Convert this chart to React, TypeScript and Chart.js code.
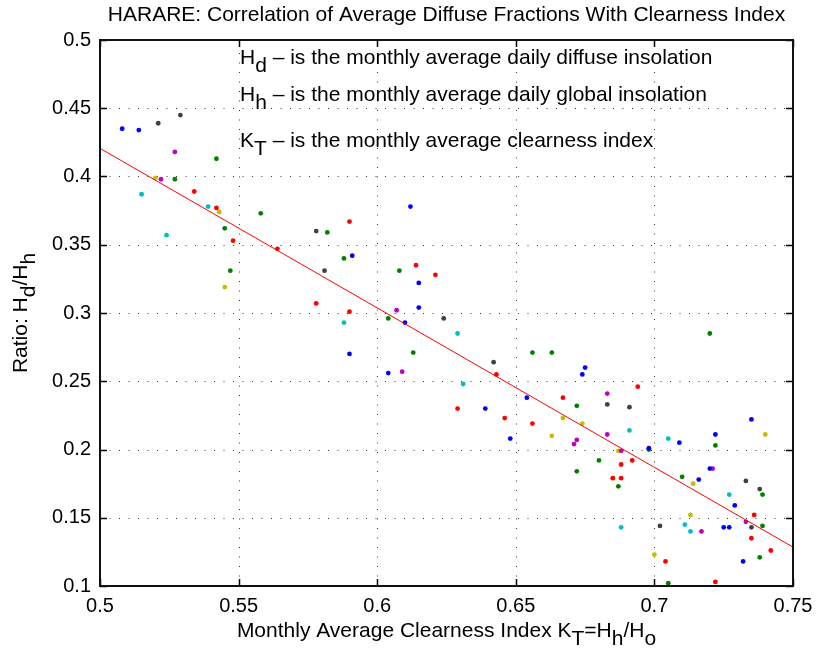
import React, { useEffect, useRef } from 'react';
import { Chart, registerables } from 'chart.js';

Chart.register(...registerables);

const FONT = "'Liberation Sans', Arial, Helvetica, sans-serif";

// Axis ticks
const xTicks = [0.5, 0.55, 0.6, 0.65, 0.7, 0.75];
const xTickLabels = ['0.5', '0.55', '0.6', '0.65', '0.7', '0.75'];
const yTicks = [0.1, 0.15, 0.2, 0.25, 0.3, 0.35, 0.4, 0.45, 0.5];
const yTickLabels = ['0.1', '0.15', '0.2', '0.25', '0.3', '0.35', '0.4', '0.45', '0.5'];

// Scatter series: [clearness index KT, ratio Hd/Hh]
const bluePoints: [number, number][] = [
  [0.508, 0.435], [0.514, 0.434], [0.612, 0.378], [0.591, 0.342], [0.615, 0.322], [0.615, 0.304],
  [0.610, 0.293], [0.590, 0.270], [0.604, 0.256], [0.675, 0.260], [0.674, 0.255], [0.654, 0.238],
  [0.639, 0.230], [0.648, 0.208], [0.698, 0.201], [0.735, 0.222], [0.709, 0.205], [0.722, 0.211],
  [0.720, 0.186], [0.716, 0.178], [0.729, 0.159], [0.725, 0.143], [0.727, 0.143], [0.732, 0.118],
];
const greenPoints: [number, number][] = [
  [0.542, 0.413], [0.527, 0.398], [0.545, 0.362], [0.558, 0.373], [0.547, 0.331], [0.582, 0.359],
  [0.588, 0.340], [0.608, 0.331], [0.604, 0.296], [0.613, 0.271], [0.656, 0.271], [0.663, 0.271],
  [0.672, 0.232], [0.680, 0.192], [0.672, 0.184], [0.698, 0.200], [0.722, 0.203], [0.687, 0.173],
  [0.710, 0.180], [0.739, 0.167], [0.739, 0.144], [0.738, 0.121], [0.705, 0.102], [0.720, 0.285],
];
const redPoints: [number, number][] = [
  [0.534, 0.389], [0.542, 0.377], [0.548, 0.353], [0.564, 0.347], [0.590, 0.367], [0.614, 0.335],
  [0.621, 0.328], [0.578, 0.307], [0.590, 0.301], [0.643, 0.255], [0.667, 0.238], [0.629, 0.230],
  [0.646, 0.223], [0.656, 0.219], [0.694, 0.246], [0.692, 0.192], [0.688, 0.189], [0.685, 0.179],
  [0.688, 0.179], [0.736, 0.152], [0.735, 0.135], [0.742, 0.126], [0.704, 0.118], [0.722, 0.103],
];
const cyanPoints: [number, number][] = [
  [0.515, 0.387], [0.539, 0.378], [0.524, 0.357], [0.588, 0.293], [0.629, 0.285], [0.631, 0.248],
  [0.691, 0.214], [0.705, 0.208], [0.727, 0.167], [0.688, 0.143], [0.711, 0.145], [0.713, 0.140],
];
const magentaPoints: [number, number][] = [
  [0.527, 0.418], [0.522, 0.398], [0.607, 0.302], [0.609, 0.257], [0.683, 0.241], [0.683, 0.211],
  [0.672, 0.207], [0.671, 0.204], [0.688, 0.199], [0.721, 0.186], [0.733, 0.147], [0.717, 0.140],
];
const yellowPoints: [number, number][] = [
  [0.520, 0.399], [0.543, 0.374], [0.545, 0.319], [0.667, 0.223], [0.674, 0.219], [0.663, 0.210],
  [0.687, 0.199], [0.685, 0.179], [0.714, 0.175], [0.740, 0.211], [0.713, 0.152], [0.700, 0.123],
];
const grayPoints: [number, number][] = [
  [0.521, 0.439], [0.529, 0.445], [0.578, 0.360], [0.581, 0.331], [0.624, 0.296], [0.642, 0.264],
  [0.683, 0.233], [0.691, 0.231], [0.733, 0.177], [0.738, 0.171], [0.735, 0.143], [0.702, 0.144],
];

// Regression line end points
const fitKT = [0.5, 0.75];
const fitRatio = [0.4206, 0.1285];

// Texts
type Part = { t: string; sub?: boolean };
const titleText = 'HARARE: Correlation of Average Diffuse Fractions With Clearness Index';
const xLabelParts: Part[] = [
  { t: 'Monthly Average Clearness Index K' }, { t: 'T', sub: true }, { t: '=H' }, { t: 'h', sub: true },
  { t: '/H' }, { t: 'o', sub: true },
];
const yLabelParts: Part[] = [
  { t: 'Ratio: H' }, { t: 'd', sub: true }, { t: '/H' }, { t: 'h', sub: true },
];
const notes: Part[][] = [
  [{ t: 'H' }, { t: 'd', sub: true }, { t: ' \u2013 is the monthly average daily diffuse insolation' }],
  [{ t: 'H' }, { t: 'h', sub: true }, { t: ' \u2013 is the monthly average daily global insolation' }],
  [{ t: 'K' }, { t: 'T', sub: true }, { t: ' \u2013 is the monthly average clearness index' }],
];
const noteKT = 0.5505;
const noteRatio = [0.4821, 0.4551, 0.4214];

const series = [
  { pts: bluePoints, color: '#0000FF' },
  { pts: greenPoints, color: '#008000' },
  { pts: redPoints, color: '#FF0000' },
  { pts: cyanPoints, color: '#00BFBF' },
  { pts: magentaPoints, color: '#BF00BF' },
  { pts: yellowPoints, color: '#BFBF00' },
  { pts: grayPoints, color: '#404040' },
];

function drawRich(ctx: CanvasRenderingContext2D, parts: Part[], x: number, y: number, center: boolean, subDy: number) {
  let total = 0;
  for (const p of parts) total += ctx.measureText(p.t).width;
  let cx = center ? x - total / 2 : x;
  for (const p of parts) {
    ctx.fillText(p.t, cx, y + (p.sub ? subDy : 0));
    cx += ctx.measureText(p.t).width;
  }
}

const matlabPlugin = {
  id: 'matlabDecor',
  beforeDatasetsDraw(chart: any) {
    const { ctx, chartArea: a, scales } = chart;
    const xs = scales.x, ys = scales.y;
    ctx.save();
    ctx.strokeStyle = '#3a3a3a';
    ctx.lineWidth = 1;
    ctx.setLineDash([1, 8.5]);
    for (const v of xTicks.slice(1, -1)) {
      const px = Math.round(xs.getPixelForValue(v)) + 0.5;
      ctx.beginPath();
      ctx.moveTo(px, a.bottom);
      ctx.lineTo(px, a.top);
      ctx.stroke();
    }
    for (const v of yTicks.slice(1, -1)) {
      const py = Math.round(ys.getPixelForValue(v)) + 0.5;
      ctx.beginPath();
      ctx.moveTo(a.left, py);
      ctx.lineTo(a.right, py);
      ctx.stroke();
    }
    ctx.restore();
  },
  afterDatasetsDraw(chart: any) {
    const { ctx, chartArea: a, scales } = chart;
    const xs = scales.x, ys = scales.y;
    ctx.save();
    ctx.setLineDash([]);
    ctx.strokeStyle = '#000';
    ctx.lineWidth = 1.5;
    const tl = 7;
    for (const v of xTicks) {
      const px = Math.round(xs.getPixelForValue(v)) + 0.5;
      ctx.beginPath();
      ctx.moveTo(px, a.bottom); ctx.lineTo(px, a.bottom - tl);
      ctx.moveTo(px, a.top); ctx.lineTo(px, a.top + tl);
      ctx.stroke();
    }
    for (const v of yTicks) {
      const py = Math.round(ys.getPixelForValue(v)) + 0.5;
      ctx.beginPath();
      ctx.moveTo(a.left, py); ctx.lineTo(a.left + tl, py);
      ctx.moveTo(a.right, py); ctx.lineTo(a.right - tl, py);
      ctx.stroke();
    }
    ctx.lineWidth = 2;
    ctx.strokeStyle = '#111';
    ctx.strokeRect(a.left, a.top, a.right - a.left, a.bottom - a.top);
    ctx.restore();
  },
  afterDraw(chart: any) {
    const { ctx, chartArea: a, scales } = chart;
    const xs = scales.x, ys = scales.y;
    ctx.save();
    ctx.fillStyle = '#000';
    ctx.textAlign = 'left';
    ctx.textBaseline = 'alphabetic';
    const cx = (a.left + a.right) / 2;
    const cy = (a.top + a.bottom) / 2;
    // title
    ctx.font = `21px ${FONT}`;
    drawRich(ctx, [{ t: titleText }], cx, 21, true, 0);
    // annotations
    ctx.font = `21px ${FONT}`;
    notes.forEach((parts, i) => {
      drawRich(ctx, parts, xs.getPixelForValue(noteKT), ys.getPixelForValue(noteRatio[i]), false, 8);
    });
    // x label
    ctx.font = `21px ${FONT}`;
    drawRich(ctx, xLabelParts, cx, 637, true, 8);
    // y label
    ctx.save();
    ctx.translate(26.5, cy);
    ctx.rotate(-Math.PI / 2);
    drawRich(ctx, yLabelParts, 0, 0, true, 8);
    ctx.restore();
    ctx.restore();
  },
};

export default function App() {
  const ref = useRef<HTMLCanvasElement | null>(null);
  useEffect(() => {
    if (!ref.current) return;
    const datasets: any[] = [
      {
        type: 'line',
        data: fitKT.map((x, i) => ({ x, y: fitRatio[i] })),
        borderColor: '#FF0000',
        borderWidth: 1,
        pointRadius: 0,
        showLine: true,
        fill: false,
      },
      ...series.map((s) => ({
        type: 'scatter',
        data: s.pts.map(([x, y]) => ({ x, y })),
        backgroundColor: s.color,
        borderColor: s.color,
        pointRadius: 2.4,
        pointBorderWidth: 0,
        pointHoverRadius: 2.4,
      })),
    ];
    const chart = new Chart(ref.current, {
      type: 'scatter',
      data: { datasets },
      plugins: [matlabPlugin],
      options: {
        animation: false,
        responsive: false,
        maintainAspectRatio: false,
        devicePixelRatio: 1,
        layout: { padding: { left: 0, right: 24, top: 40, bottom: 0 } },
        plugins: { legend: { display: false }, tooltip: { enabled: false }, title: { display: false } },
        scales: {
          x: {
            type: 'linear',
            min: 0.5,
            max: 0.75,
            grid: { display: false, drawTicks: false },
            border: { display: false },
            afterBuildTicks: (s: any) => { s.ticks = xTicks.map((v) => ({ value: v })); },
            afterFit: (s: any) => { s.height = 65; s.paddingLeft = 0; s.paddingRight = 0; },
            ticks: {
              autoSkip: false,
              maxRotation: 0,
              padding: 8,
              color: '#000',
              font: { family: FONT, size: 20 },
              callback: (_v: any, i: number) => xTickLabels[i],
            },
          },
          y: {
            type: 'linear',
            min: 0.1,
            max: 0.5,
            grid: { display: false, drawTicks: false },
            border: { display: false },
            afterBuildTicks: (s: any) => { s.ticks = yTicks.map((v) => ({ value: v })); },
            afterFit: (s: any) => { s.width = 100; s.paddingTop = 0; s.paddingBottom = 0; },
            ticks: {
              autoSkip: false,
              padding: 9,
              color: '#000',
              font: { family: FONT, size: 20 },
              callback: (_v: any, i: number) => yTickLabels[i],
            },
          },
        },
      },
    });
    return () => chart.destroy();
  }, []);
  return (
    <div style={{ position: 'fixed', left: 0, top: 0, width: 817, height: 651, background: '#fff' }}>
      <canvas ref={ref} width={817} height={651} style={{ width: 817, height: 651, display: 'block' }} />
    </div>
  );
}
